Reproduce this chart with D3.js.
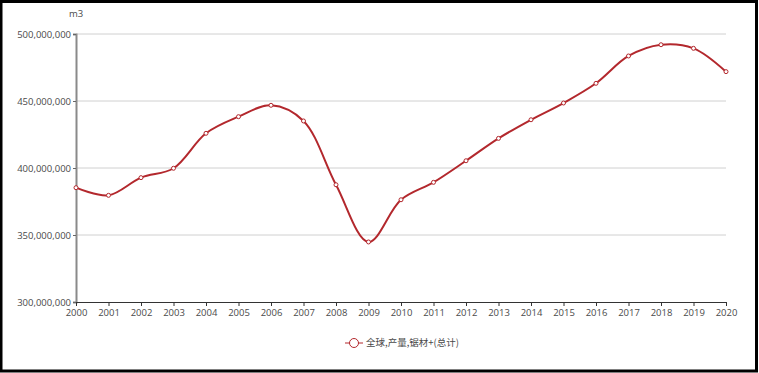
<!DOCTYPE html>
<html lang="zh">
<head>
<meta charset="UTF-8">
<title>全球产量 锯材</title>
<script src="https://d3js.org/d3.v7.min.js"></script>
<style>
    * { margin: 0; padding: 0; box-sizing: border-box; }
    html, body { width: 759px; height: 373px; background: #fff; overflow: hidden; }
    svg { display: block; }
    .tick text { font-family: "Open Sans", "Noto Sans", sans-serif; font-size: 9.5px; fill: #4a4a4a; }
    .legend text { font-family: "Noto Sans CJK SC", sans-serif; font-size: 9.5px; fill: #4a4a4a; }
</style>
</head>
<body>
<svg id="chart" width="759" height="373"></svg>
<script>
    // data (m3)
    const years = d3.range(2000, 2021);
    const production = [
        385300000, 379600000, 392800000, 399800000, 425900000,
        438300000, 446800000, 435100000, 387500000, 344800000,
        376300000, 389300000, 405400000, 422100000, 436000000,
        448500000, 463200000, 483600000, 492000000, 489300000,
        471900000
    ];
    const yTicks = [300000000, 350000000, 400000000, 450000000, 500000000];
    const unitLabel = "m3";
    const seriesName = "全球,产量,锯材+(总计)";

    const width = 759, height = 373;
    const margin = { top: 34, right: 33, bottom: 71, left: 76 };
    const lineColor = "#b3282d";

    const svg = d3.select("#chart");

    // black frame round the picture
    svg.append("rect")
        .attr("x", 1).attr("y", 1.5)
        .attr("width", width - 3.5).attr("height", height - 3.5)
        .attr("fill", "#fff")
        .attr("stroke", "#000")
        .attr("stroke-width", 3);

    const x = d3.scaleLinear()
        .domain([2000, 2020])
        .range([margin.left, width - margin.right]);

    const y = d3.scaleLinear()
        .domain([300000000, 500000000])
        .range([height - margin.bottom, margin.top]);

    // horizontal grid
    svg.append("g")
        .selectAll("line")
        .data(yTicks.slice(1))
        .join("line")
        .attr("x1", margin.left)
        .attr("x2", width - margin.right)
        .attr("y1", d => y(d))
        .attr("y2", d => y(d))
        .attr("stroke", "#d0d0d0")
        .attr("stroke-width", 1);

    // y axis
    const yAxis = svg.append("g")
        .attr("transform", `translate(${margin.left},0)`)
        .call(d3.axisLeft(y).tickValues(yTicks).tickFormat(d3.format(",")).tickSize(3).tickPadding(2));
    yAxis.select(".domain").attr("stroke", "#8a8a8a").attr("stroke-width", 2);
    yAxis.selectAll(".tick line").attr("stroke", "#666");

    // x axis
    const xAxis = svg.append("g")
        .attr("transform", `translate(0,${height - margin.bottom})`)
        .call(d3.axisBottom(x).tickValues(years).tickFormat(d3.format("d")).tickSize(4).tickPadding(3));
    xAxis.select(".domain").attr("stroke", "#333");
    xAxis.selectAll(".tick line").attr("stroke", "#333");

    // unit label
    svg.append("text")
        .attr("x", margin.left)
        .attr("y", 17)
        .attr("text-anchor", "middle")
        .attr("font-family", "Open Sans, sans-serif")
        .attr("font-size", "9.5px")
        .attr("fill", "#4a4a4a")
        .text(unitLabel);

    // smoothed line
    const line = d3.line()
        .x((d, i) => x(years[i]))
        .y(d => y(d))
        .curve(d3.curveCatmullRom.alpha(0.5));

    svg.append("path")
        .datum(production)
        .attr("fill", "none")
        .attr("stroke", lineColor)
        .attr("stroke-width", 2)
        .attr("d", line);

    svg.append("g")
        .selectAll("circle")
        .data(production)
        .join("circle")
        .attr("cx", (d, i) => x(years[i]))
        .attr("cy", d => y(d))
        .attr("r", 2)
        .attr("fill", "#fff")
        .attr("stroke", lineColor)
        .attr("stroke-width", 1);

    // legend
    const legend = svg.append("g")
        .attr("class", "legend")
        .attr("transform", "translate(345,343)");
    legend.append("line")
        .attr("x1", 0).attr("x2", 18)
        .attr("stroke", lineColor)
        .attr("stroke-width", 1);
    legend.append("circle")
        .attr("cx", 9).attr("r", 4.5)
        .attr("fill", "#fff")
        .attr("stroke", lineColor)
        .attr("stroke-width", 1);
    legend.append("text")
        .attr("x", 21)
        .attr("dy", "0.35em")
        .text(seriesName);
</script>
</body>
</html>
